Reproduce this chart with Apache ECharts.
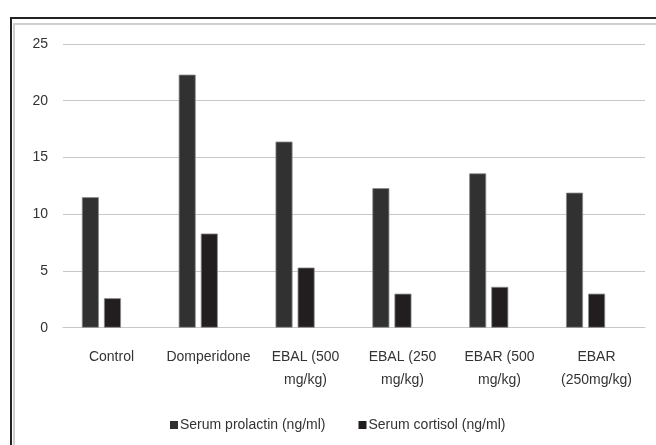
<!DOCTYPE html>
<html>
<head>
<meta charset="utf-8">
<script src="https://cdn.jsdelivr.net/npm/echarts@6/dist/echarts.min.js"></script>
<style>
html,body{margin:0;padding:0;background:#fff;}
#c{width:656px;height:445px;}
</style>
</head>
<body>
<div id="c"></div>
<script>
var categories = ['Control', 'Domperidone', 'EBAL (500\nmg/kg)', 'EBAL (250\nmg/kg)', 'EBAR (500\nmg/kg)', 'EBAR\n(250mg/kg)'];
var seriesNames = ['Serum prolactin (ng/ml)', 'Serum cortisol (ng/ml)'];
var prolactin = [11.5, 22.3, 16.4, 12.3, 13.6, 11.9];
var cortisol = [2.6, 8.3, 5.3, 3.0, 3.6, 3.0];
var yMin = 0, yMax = 25, yStep = 5;

var FONT = '"Liberation Sans", Arial, sans-serif';
var TXT = '#333333';
var chart = echarts.init(document.getElementById('c'), null, {renderer: 'canvas'});
chart.setOption({
  animation: false,
  backgroundColor: '#ffffff',
  grid: [
    {left: 53, right: 22, top: 44, bottom: 117.3, containLabel: false},
    {left: 63, right: 11, top: 44, bottom: 117.3, containLabel: false}
  ],
  legend: {
    data: seriesNames,
    left: 170,
    top: 418,
    padding: 0,
    itemWidth: 8,
    itemHeight: 8,
    itemGap: 33,
    icon: 'rect',
    itemStyle: {borderWidth: 0},
    textStyle: {fontFamily: FONT, fontSize: 14, color: TXT, padding: [0, 0, 0, -3]}
  },
  xAxis: [
    {type: 'category', gridIndex: 0, data: categories, show: false},
    {type: 'category', gridIndex: 1, data: categories,
      axisLine: {show: true, lineStyle: {color: '#c8c8c8', width: 1}},
      axisTick: {show: false},
      axisLabel: {interval: 0, margin: 18, fontFamily: FONT, fontSize: 14, color: TXT, lineHeight: 23}
    }
  ],
  yAxis: [
    {type: 'value', gridIndex: 0, min: yMin, max: yMax, interval: yStep, show: false},
    {type: 'value', gridIndex: 1, min: yMin, max: yMax, interval: yStep,
      axisLine: {show: false}, axisTick: {show: false},
      axisLabel: {margin: 15, fontFamily: FONT, fontSize: 14, color: TXT},
      splitLine: {show: true, lineStyle: {color: '#c8c8c8', width: 1}}
    }
  ],
  series: [
    {name: seriesNames[0], type: 'bar', xAxisIndex: 0, yAxisIndex: 0, data: prolactin,
      barWidth: 17, barGap: '30%',
      itemStyle: {color: '#323132', borderColor: '#8a8a8a', borderWidth: 0.8}},
    {name: seriesNames[1], type: 'bar', xAxisIndex: 0, yAxisIndex: 0, data: cortisol,
      barWidth: 17, barGap: '30%',
      itemStyle: {color: '#221e1f', borderColor: '#8a8a8a', borderWidth: 0.8}}
  ],
  graphic: [
    {type: 'line', shape: {x1: 10, y1: 18, x2: 656, y2: 18}, style: {stroke: '#222', lineWidth: 2}, silent: true},
    {type: 'line', shape: {x1: 11, y1: 17, x2: 11, y2: 445}, style: {stroke: '#222', lineWidth: 2}, silent: true},
    {type: 'line', shape: {x1: 13, y1: 24, x2: 656, y2: 24}, style: {stroke: '#cfcfcf', lineWidth: 2}, silent: true},
    {type: 'line', shape: {x1: 14, y1: 23, x2: 14, y2: 445}, style: {stroke: '#cfcfcf', lineWidth: 2}, silent: true}
  ]
});
</script>
</body>
</html>
